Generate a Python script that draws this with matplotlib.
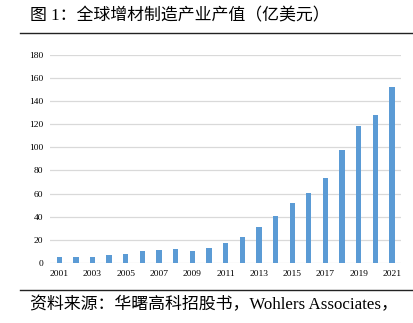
import matplotlib
matplotlib.use("Agg")
import matplotlib.pyplot as plt
from matplotlib.lines import Line2D

# Global additive manufacturing output, 100 million USD
years = list(range(2001, 2022))
values = [5.3, 4.8, 5.3, 7.0, 8.0, 9.9, 11.6, 11.8, 10.7, 13.3, 17.1,
          22.0, 30.7, 41.0, 51.7, 60.6, 73.4, 98.0, 118.7, 127.6, 152.4]
y_ticks = list(range(0, 181, 20))
title = "图 1：全球增材制造产业产值（亿美元）"
source = "资料来源：华曙高科招股书，Wohlers Associates，"

mixed = ["Liberation Serif", "Noto Sans CJK SC", "DejaVu Sans"]

fig = plt.figure(figsize=(4.14, 3.23), dpi=100)
ax = fig.add_axes([0.121, 0.186, 0.848, 0.644])

x = list(range(len(years)))
ax.bar(x, values, width=0.32, color="#5b9bd5", zorder=3)

ax.set_ylim(0, 180)
ax.set_xlim(-0.55, len(years) - 0.45)
ax.set_yticks(y_ticks)
ax.set_yticklabels([str(t) for t in y_ticks], fontsize=6.8, family="Liberation Serif")
ax.set_xticks(x[::2])
ax.set_xticklabels([str(y) for y in years[::2]], fontsize=6.8, family="Liberation Serif")
ax.tick_params(length=0, pad=5)
ax.yaxis.grid(True, color="#d9d9d9", linewidth=0.9, zorder=0)
for s in ax.spines.values():
    s.set_visible(False)

# Header and footer text with rules
fig.text(0.072, 0.948, title, fontsize=12.2, family=mixed, va="center", ha="left")
fig.add_artist(Line2D([0.048, 0.995], [0.898, 0.898], color="#222222", linewidth=1.0))
fig.add_artist(Line2D([0.048, 0.995], [0.102, 0.102], color="#222222", linewidth=1.0))
fig.text(0.072, 0.055, source, fontsize=12.2, family=mixed, va="center", ha="left")

fig.savefig("out.png", dpi=100)
